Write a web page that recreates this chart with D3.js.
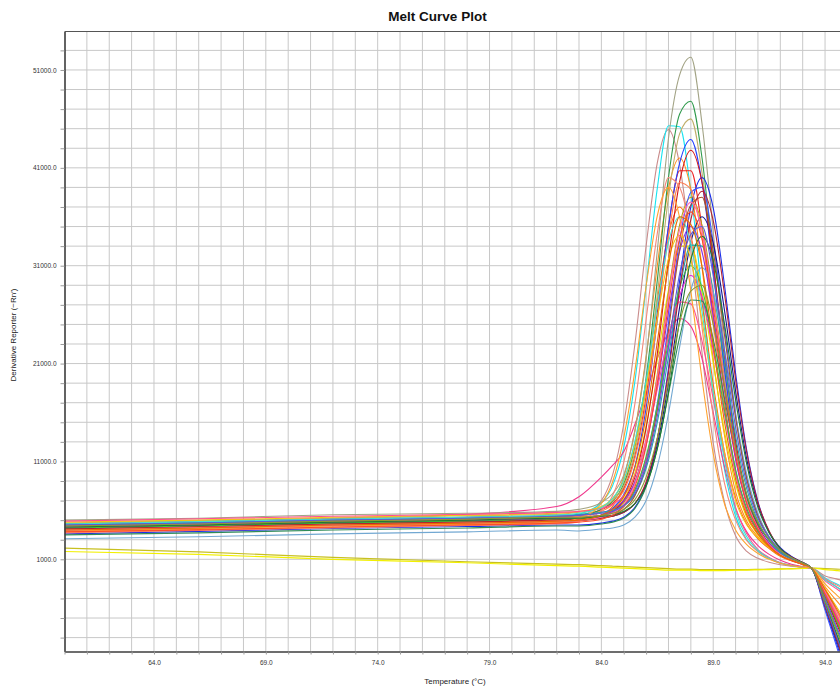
<!DOCTYPE html>
<html>
<head>
<meta charset="utf-8">
<script src="https://cdn.jsdelivr.net/npm/d3@7"></script>
<style>
  body { margin: 0; background: #fff; overflow: hidden; }
  text { font-family: 'Liberation Sans', Arial, sans-serif; }
</style>
</head>
<body>
<div id="chart"></div>
<script>
// Melt curve data: temperature (deg C) and derivative reporter (-Rn') per well

const temps = [60, 66, 72, 78, 82, 83, 84, 84.5, 85, 85.5, 86, 86.5, 87, 87.5, 88, 88.5, 89, 89.5, 90, 90.5, 91, 91.5, 92, 92.5, 93, 93.4, 94, 94.5, 95];

const w01 = [3900, 4100, 4450, 4600, 4800, 5300, 7000, 9600, 14800, 23000, 33000, 41500, 44900, 41300, 32600, 22100, 12900, 6900, 3400, 1800, 1100, 700, 450, 300, 180, 100, -700, -1000, -1300];
const w02 = [4300, 4600, 4800, 5050, 5200, 5600, 6800, 8500, 12400, 19200, 28900, 38900, 45300, 45200, 38500, 28100, 17900, 10200, 5400, 3000, 1800, 1100, 650, 380, 220, 100, -900, -1500, -2000];
const w03 = [4600, 4900, 5200, 5600, 6400, 7400, 9400, 10600, 12000, 14800, 18000, 21500, 24200, 25600, 24800, 21500, 16000, 10500, 6200, 3800, 2400, 1500, 900, 500, 250, 100, -1000, -1800, -2500];
const w04 = [4100, 4300, 4650, 4800, 5000, 5200, 6000, 7000, 9400, 14200, 21700, 31000, 38900, 42000, 38800, 30800, 21400, 13700, 7900, 4900, 3300, 2200, 1400, 900, 500, 100, -1800, -3200, -4500];
const w05 = [4500, 4800, 5000, 5300, 5400, 5500, 6100, 6700, 8200, 11600, 17600, 26200, 35000, 40700, 40700, 34900, 25900, 17100, 10000, 5900, 3800, 2500, 1600, 950, 520, 100, -2400, -4800, -7200];
const w06 = [3800, 4050, 4250, 4550, 4700, 4900, 5500, 6400, 8500, 12700, 19200, 27400, 34200, 37000, 34100, 27200, 18900, 12000, 7300, 4600, 3100, 2100, 1300, 850, 480, 100, -2200, -4200, -6300];
const w07 = [4000, 4250, 4500, 4700, 4900, 5000, 5400, 6000, 7100, 9800, 14600, 21400, 28500, 33000, 33000, 28300, 21100, 14100, 8700, 5300, 3500, 2300, 1500, 900, 500, 100, -2300, -4500, -6800];
const w08 = [4200, 4450, 4700, 4950, 5100, 5200, 5500, 5900, 6800, 8900, 13200, 19900, 28200, 35200, 38000, 35100, 28000, 19500, 11900, 7000, 4200, 2500, 1500, 900, 500, 100, -2600, -5000, -7500];
const w09 = [4400, 4650, 4950, 5150, 5300, 5500, 6100, 6900, 8700, 12500, 19500, 29500, 40000, 46500, 47800, 42000, 31500, 20500, 11800, 6700, 4100, 2500, 1600, 950, 520, 100, -2800, -5300, -8000];
const w10 = [5000, 5200, 5550, 5700, 5900, 6100, 6800, 7700, 9600, 14100, 21500, 32500, 44000, 50500, 52300, 45500, 34500, 22500, 12800, 7200, 4300, 2700, 1700, 1000, 550, 100, -2600, -5000, -7500];
const w11 = [4700, 4950, 5200, 5450, 5600, 5800, 6300, 7000, 8500, 12000, 18500, 28000, 38000, 44500, 46000, 40500, 30500, 20000, 11500, 6600, 4000, 2500, 1600, 950, 520, 100, -2400, -4700, -7000];
const w12 = [4000, 4250, 4500, 4750, 4900, 5000, 5500, 6200, 7600, 10500, 16500, 25500, 35000, 41500, 43900, 39500, 30500, 20500, 12500, 7500, 4600, 2900, 1800, 1100, 600, 100, -3500, -6800, -10000];
const w13 = [3600, 3850, 4150, 4350, 4500, 4500, 4700, 4900, 5300, 6300, 8600, 13300, 20500, 29500, 37000, 40000, 36900, 29100, 20000, 12100, 6900, 3800, 2200, 1300, 650, 100, -4000, -7500, -11000];
const w14 = [4300, 4500, 4800, 5000, 5200, 5300, 5500, 5800, 6400, 7900, 11100, 16900, 25100, 33600, 38500, 39000, 33400, 24700, 15900, 9300, 5500, 3300, 1900, 1200, 650, 100, -4200, -7800, -11500];
const w15 = [4200, 4400, 4700, 4950, 5100, 5100, 5300, 5400, 5800, 6700, 8700, 12700, 19000, 26800, 33400, 36000, 33300, 26500, 18200, 11200, 6600, 3800, 2100, 1250, 680, 100, -3800, -7200, -10500];
const w16 = [4100, 4350, 4600, 4800, 5000, 5100, 5500, 5900, 7000, 9400, 14400, 22000, 31600, 39600, 42800, 39500, 31300, 21600, 13100, 7500, 4400, 2600, 1500, 900, 500, 100, -2800, -5500, -8200];
const w17 = [3700, 3950, 4200, 4450, 4600, 4900, 6000, 7500, 10900, 16900, 25500, 34300, 40000, 39000, 34000, 24700, 15600, 8800, 5000, 2900, 1800, 1100, 600, 350, 200, 100, -1000, -1600, -2200];
const w18 = [4400, 4600, 4900, 5100, 5300, 5400, 5900, 6600, 8000, 11300, 17100, 25400, 34000, 39500, 38800, 33900, 25100, 16600, 9700, 5700, 3600, 2300, 1500, 900, 500, 100, -2400, -4600, -7000];
const w19 = [4500, 4750, 5000, 5250, 5400, 5500, 5800, 6100, 7000, 8900, 12700, 18700, 26200, 32500, 35000, 32400, 25900, 18300, 11200, 6700, 4200, 2600, 1600, 950, 520, 100, -3000, -5800, -8600];
const w20 = [4300, 4550, 4800, 5000, 5200, 5300, 5500, 5800, 6500, 8100, 11300, 16300, 22600, 27900, 30000, 27800, 22400, 15900, 9900, 6100, 3900, 2400, 1500, 900, 500, 100, -2500, -4800, -7200];
const w21 = [4600, 4800, 5100, 5300, 5500, 5600, 5800, 6000, 6500, 7600, 10300, 15000, 21700, 28600, 33100, 33000, 28400, 21300, 13600, 8200, 4900, 2900, 1700, 950, 520, 100, -3200, -6000, -9000];
const w22 = [3100, 3300, 3600, 3800, 4000, 3900, 4100, 4200, 4500, 5300, 7000, 10500, 15900, 22700, 28500, 30800, 28300, 22400, 15700, 9700, 5700, 3300, 2000, 1150, 620, 100, -3600, -6800, -10000];
const w23 = [4000, 4200, 4500, 4700, 4900, 5000, 5200, 5500, 6100, 7500, 10700, 16300, 24400, 32700, 37200, 38000, 32500, 24000, 15500, 9200, 5400, 3200, 1900, 1150, 620, 100, -3800, -7000, -10500];
const w24 = [4200, 4400, 4700, 4900, 5100, 5200, 5400, 5700, 6400, 8100, 11500, 16700, 23300, 28800, 31000, 28700, 23000, 16300, 10200, 6200, 3900, 2400, 1500, 900, 500, 100, -2700, -5200, -7800];
const w25 = [4800, 5000, 5300, 5500, 5700, 5900, 6400, 7200, 9000, 12700, 18500, 25600, 31700, 34100, 31600, 25400, 18100, 12000, 7000, 4500, 3200, 2200, 1400, 900, 500, 100, -2000, -3800, -5600];
const w26 = [4900, 5150, 5400, 5600, 5800, 5900, 6200, 6600, 7500, 9600, 13200, 18400, 23800, 27300, 27100, 23300, 17400, 11500, 6300, 3600, 2000, 1200, 650, 380, 220, 100, -1200, -2000, -2800];
const w27 = [3500, 3700, 4000, 4200, 4400, 4400, 4600, 4800, 5200, 6200, 8400, 12300, 17900, 23700, 27500, 27400, 23500, 17500, 11800, 7300, 4600, 3000, 1900, 1150, 620, 100, -3400, -6500, -9500];
const w28 = [4100, 4300, 4600, 4800, 5000, 5000, 5200, 5400, 5800, 6700, 8900, 13300, 20100, 28600, 35700, 38600, 35600, 28200, 19400, 11900, 6800, 3900, 2100, 1250, 680, 100, -3700, -7000, -10300];
const w29 = [4600, 4850, 5100, 5300, 5500, 5700, 6300, 7200, 9100, 13100, 19300, 26900, 33400, 36000, 33200, 26300, 18100, 11200, 5900, 3300, 1900, 1100, 600, 350, 200, 100, -1100, -1800, -2500];
const w30 = [3900, 4150, 4400, 4600, 4800, 5200, 6700, 8900, 13400, 20300, 28900, 36100, 39000, 35900, 28400, 19400, 11800, 6700, 4000, 2500, 1600, 1000, 600, 350, 200, 100, -1500, -2600, -3600];
const w31 = [4000, 4250, 4500, 4700, 4900, 5000, 5300, 5700, 6600, 8700, 13000, 19600, 27800, 34700, 37500, 34600, 27500, 19100, 11900, 6900, 4200, 2500, 1500, 900, 500, 100, -2200, -4300, -6500];
const w32 = [4300, 4500, 4800, 5000, 5200, 5200, 5400, 5500, 5900, 6700, 8500, 12300, 18100, 25400, 31600, 34000, 31500, 25100, 17300, 10700, 6300, 3700, 2100, 1200, 650, 100, -3500, -6600, -9800];
const w33 = [3800, 4000, 4300, 4500, 4700, 4800, 5100, 5500, 6400, 8400, 12600, 19000, 27000, 33800, 36500, 33700, 26800, 18600, 11600, 6700, 4100, 2400, 1400, 850, 480, 100, -2600, -5000, -7500];
const w34 = [4500, 4700, 5000, 5200, 5400, 5500, 5700, 5900, 6500, 7700, 10600, 15600, 22800, 30200, 34200, 35000, 30000, 22400, 14500, 8700, 5200, 3200, 1900, 1150, 620, 100, -3600, -6800, -10000];
const w35 = [4000, 4200, 4500, 4700, 4900, 5000, 5500, 6100, 7400, 10400, 15600, 23200, 31000, 36000, 35200, 30900, 22900, 15100, 9200, 5500, 3600, 2300, 1400, 900, 500, 100, -2100, -4000, -6000];
const w36 = [4400, 4600, 4900, 5100, 5300, 5300, 5500, 5700, 6100, 7100, 9400, 13400, 19200, 25200, 28400, 29000, 25000, 18800, 12400, 7600, 4800, 3000, 1900, 1150, 620, 100, -3300, -6200, -9200];

// no template controls
const ntc1 = [2150, 1750, 1200, 750, 500, 450, 350, 300, 250, 200, 150, 100, 50, 0, 0, -50, -50, -50, -50, -50, -30, 0, 20, 50, 80, 100, 50, 0, -50];
const ntc2 = [1800, 1500, 1000, 650, 350, 300, 200, 150, 100, 50, 0, -50, -100, -100, -100, -150, -150, -150, -120, -100, -80, -50, 0, 30, 70, 100, -50, -150, -250];

const wells = [w01, w02, w03, w04, w05, w06, w07, w08, w09, w10, w11, w12, w13, w14, w15, w16, w17, w18,
  w19, w20, w21, w22, w23, w24, w25, w26, w27, w28, w29, w30, w31, w32, w33, w34, w35, w36];
const wellColors = ['#c98b8b', '#19e3f0', '#f0378c', '#ff8c1a', '#ee2222', '#ff6a14', '#e6dc00', '#b8a010',
  '#2f9a4c', '#a2a385', '#bfae6a', '#2442ff', '#1a2fe8', '#4058ff', '#14148c', '#d31616', '#f3897a',
  '#ff7f50', '#8a2be2', '#e024d4', '#22a6a6', '#72a8d2', '#a4552f', '#3cc43c', '#f2c414', '#ff4f90',
  '#2e8b57', '#b22234', '#40e0d0', '#ffa22e', '#ff6ab4', '#1f7a33', '#ff4b2b', '#5c5cd8', '#e86c00', '#8c9c32'];
const ntcWells = [ntc1, ntc2];
const ntcColors = ['#c8c020', '#f2f000'];

const xTickLabels = [64, 69, 74, 79, 84, 89, 94];
const yTickLabels = [1000, 11000, 21000, 31000, 41000, 51000];

// plot frame (right side runs past the window, as in the original export)
const WIDTH = 840;
const HEIGHT = 689;
const plot = { left: 64.5, top: 31.5, bottom: 651.5, right: 869.8 };

const x = d3.scaleLinear().domain([60, 96]).range([plot.left, plot.right]);
const y = d3.scaleLinear().domain([-8420, 54930]).range([plot.bottom, plot.top]);

const svg = d3.select('#chart')
  .append('svg')
  .attr('width', WIDTH)
  .attr('height', HEIGHT)
  .style('display', 'block');

svg.append('rect')
  .attr('width', WIDTH)
  .attr('height', HEIGHT)
  .attr('fill', '#fff');

function draw_grid (g) {
  g.append('g')
    .selectAll('line')
    .data(d3.range(61, 96))
    .join('line')
    .attr('x1', (d) => x(d))
    .attr('x2', (d) => x(d))
    .attr('y1', plot.top)
    .attr('y2', plot.bottom)
    .attr('stroke', '#c8c8c8')
    .attr('stroke-width', 1);

  g.append('g')
    .selectAll('line')
    .data(d3.range(-7000, 54000, 2000))
    .join('line')
    .attr('x1', plot.left)
    .attr('x2', plot.right)
    .attr('y1', (d) => y(d))
    .attr('y2', (d) => y(d))
    .attr('stroke', '#c8c8c8')
    .attr('stroke-width', 1);
}

function draw_axes (g) {
  // y axis
  let yAxis = g.append('g')
    .attr('transform', `translate(${plot.left}, 0)`)
    .call(d3.axisLeft(y)
      .tickValues(d3.range(-7000, 54000, 2000))
      .tickSize(4)
      .tickSizeOuter(0)
      .tickPadding(4)
      .tickFormat((d) => yTickLabels.includes(d) ? d.toFixed(1) : ''));

  // x axis
  let xAxis = g.append('g')
    .attr('transform', `translate(0, ${plot.bottom})`)
    .call(d3.axisBottom(x)
      .tickValues(d3.range(60, 96))
      .tickSize(3)
      .tickSizeOuter(0)
      .tickPadding(6)
      .tickFormat((d) => xTickLabels.includes(d) ? d.toFixed(1) : ''));

  [yAxis, xAxis].forEach((a) => {
    a.select('.domain').attr('stroke', '#3c3c3c').attr('stroke-width', 1.6);
    a.selectAll('.tick line').attr('stroke', '#9a9a9a');
    a.selectAll('.tick text')
      .attr('fill', '#333')
      .style('font-size', '6.5px');
  });

  // top border of the plot box
  g.append('line')
    .attr('x1', plot.left)
    .attr('x2', plot.right)
    .attr('y1', plot.top)
    .attr('y2', plot.top)
    .attr('stroke', '#555')
    .attr('stroke-width', 1);
}

function draw_curves (g, series, colors, width) {
  let line = d3.line()
    .x((d, i) => x(temps[i]))
    .y((d) => y(d))
    .curve(d3.curveMonotoneX);

  g.append('g')
    .attr('clip-path', 'url(#plot-clip)')
    .selectAll('path')
    .data(series)
    .join('path')
    .attr('fill', 'none')
    .attr('stroke', (d, i) => colors[i])
    .attr('stroke-width', width)
    .attr('d', line);
}

svg.append('clipPath')
  .attr('id', 'plot-clip')
  .append('rect')
  .attr('x', plot.left)
  .attr('y', plot.top)
  .attr('width', plot.right - plot.left)
  .attr('height', plot.bottom - plot.top);

draw_grid(svg);
draw_curves(svg, ntcWells, ntcColors, 1.2);
draw_curves(svg, wells, wellColors, 1.1);
draw_axes(svg);

// titles
svg.append('text')
  .attr('x', 437.5)
  .attr('y', 20.5)
  .attr('text-anchor', 'middle')
  .style('font-size', '13.5px')
  .style('font-weight', 'bold')
  .attr('fill', '#111')
  .text('Melt Curve Plot');

svg.append('text')
  .attr('x', 455)
  .attr('y', 684)
  .attr('text-anchor', 'middle')
  .style('font-size', '8px')
  .attr('fill', '#222')
  .text('Temperature (°C)');

svg.append('text')
  .attr('transform', 'translate(16, 335) rotate(-90)')
  .attr('text-anchor', 'middle')
  .style('font-size', '8px')
  .attr('fill', '#222')
  .text('Derivative Reporter (−Rn′)');
</script>
</body>
</html>
